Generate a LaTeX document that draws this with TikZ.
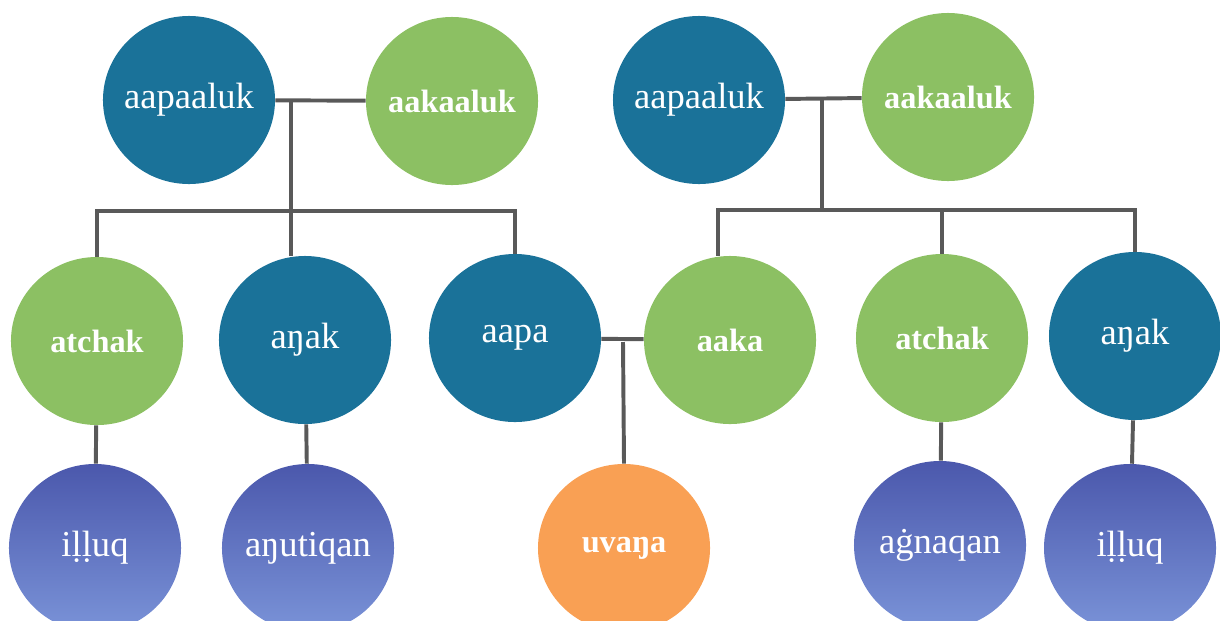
\documentclass[tikz,border=0pt]{standalone}
\usepackage{fontspec}
\setmainfont{Liberation Serif}
\usepackage{tikz}
\usetikzlibrary{calc,shapes.geometric}
\definecolor{kinblue}{HTML}{1A7299}
\definecolor{kingreen}{HTML}{8CC063}
\definecolor{kinorange}{HTML}{F9A054}
\definecolor{kintop}{HTML}{4B58AC}
\definecolor{kinbottom}{HTML}{7A93D8}
\definecolor{kinline}{HTML}{595959}

\begin{document}
\begin{tikzpicture}[x=0.025cm,y=-0.025cm,
person/.style={ellipse,minimum width=4.3cm,minimum height=4.2cm,inner xsep=-30pt,inner ysep=0pt,text=white,font=\fontsize{26}{30}\selectfont},
man/.style={person,fill=kinblue},
woman/.style={person,fill=kingreen,font=\fontsize{23}{30}\selectfont\bfseries},
young/.style={person,top color=kintop,bottom color=kinbottom},
ego/.style={person,fill=kinorange,font=\fontsize{23}{30}\selectfont\bfseries},
link/.style={draw=kinline,line width=2.8pt}]
\useasboundingbox (0,0) rectangle (1220,620);
\clip (0,0) rectangle (1220,620);
\node[man] (gpaL) at (189,100) {aapaaluk};
\node[woman] (gmaL) at (452,101) {aakaaluk};
\node[man] (gpaR) at (699,100) {aapaaluk};
\node[woman] (gmaR) at (948,97) {aakaaluk};
\node[woman] (atchakL) at (97,341) {atchak};
\node[man] (anakL) at (305,340) {aŋak};
\node[man] (aapa) at (515,338) {aapa};
\node[woman] (aaka) at (730,340) {aaka};
\node[woman] (atchakR) at (942,338) {atchak};
\node[man] (anakR) at (1135,336) {aŋak};
\node[young] (illuqL) at (95,548) {iḷḷuq};
\node[young] (anutiqan) at (308,548) {aŋutiqan};
\node[ego] (uvana) at (624,548) {uvaŋa};
\node[young] (agnaqan) at (940,545) {aġnaqan};
\node[young] (illuqR) at (1130,548) {iḷḷuq};
\coordinate (coupleL) at (291,101);
\coordinate (busL) at (291,211);
\coordinate (coupleR) at (822,98);
\coordinate (busR) at (822,210);
\coordinate (coupleP) at (623,342);
\draw[link] (gpaL) -- (gmaL);
\draw[link] (gpaR) -- (gmaR);
\draw[link] (aapa) -- (aaka);
\draw[link] (coupleL) -- (busL);
\draw[link] (coupleR) -- (busR);
\draw[link] (coupleP) -- (uvana.north);
\draw[link] (atchakL.north) -- (atchakL.north |- busL) -- (aapa.north |- busL) -- (aapa.north);
\draw[link] (busL) -- (busL |- anakL.north);
\draw[link] ($(aaka.north)+(-12,0)$) -- ($(aaka.north |- busR)+(-12,0)$) -- (anakR.north |- busR) -- (anakR.north);
\draw[link] (busR -| atchakR.north) -- (atchakR.north);
\draw[link] (atchakL) -- (illuqL);
\draw[link] (anakL) -- (anutiqan);
\draw[link] (atchakR) -- (agnaqan);
\draw[link] (anakR) -- (illuqR);
\end{tikzpicture}
\end{document}
